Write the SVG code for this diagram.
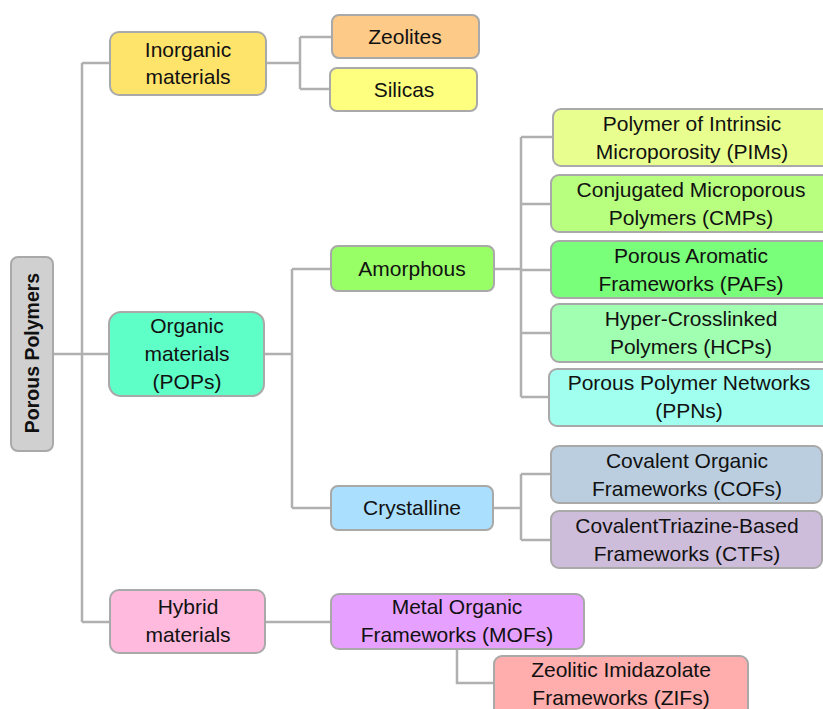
<svg xmlns="http://www.w3.org/2000/svg" width="823" height="709" viewBox="0 0 823 709">
<style>
.box{stroke:#a9a9a9;stroke-width:2}
.t{font-family:"Liberation Sans",Arial,sans-serif;font-size:21px;fill:#111;text-anchor:middle}
.c{fill:none;stroke:#b0b0b0;stroke-width:2.5}
</style>
<rect width="823" height="709" fill="#fff"/>
<g id="connectors">
<path class="c" d="M53,354 H109 M82,63 V622 M82,63 H110 M82,622 H110"/>
<path class="c" d="M266,63 H300 M300,37 V89 M300,37 H332 M300,89 H330"/>
<path class="c" d="M264,354 H292 M292,269 V508 M292,269 H331 M292,508 H331"/>
<path class="c" d="M494,269 H521 M521,137 V397 M521,137 H553 M521,204 H551 M521,270 H551 M521,333 H551 M521,397 H549"/>
<path class="c" d="M493,508 H521 M521,474 V540 M521,474 H551 M521,540 H551"/>
<path class="c" d="M265,622 H331"/>
<path class="c" d="M457,649 V683 H494"/>
</g>
<g id="root">
<rect class="box" x="11" y="257" width="42" height="194" rx="7" fill="#d0d0d0"/>
<text class="t" transform="translate(39,353) rotate(-90)" style="font-weight:bold;font-size:19.5px">Porous Polymers</text>
</g>
<g id="inorganic">
<rect class="box" x="110" y="32" width="156" height="63" rx="9" fill="#ffe46c"/>
<text class="t" x="188" y="57">Inorganic</text>
<text class="t" x="188" y="84">materials</text>
</g>
<g id="zeolites">
<rect class="box" x="332" y="15" width="147" height="43" rx="7" fill="#fdca87"/>
<text class="t" x="405" y="44">Zeolites</text>
</g>
<g id="silicas">
<rect class="box" x="330" y="68" width="147" height="43" rx="7" fill="#ffff7f"/>
<text class="t" x="404" y="97">Silicas</text>
</g>
<g id="organic">
<rect class="box" x="109" y="312" width="155" height="84" rx="12" fill="#5fffc8"/>
<text class="t" x="187" y="333">Organic</text>
<text class="t" x="187" y="361">materials</text>
<text class="t" x="187" y="389">(POPs)</text>
</g>
<g id="amorphous">
<rect class="box" x="331" y="246" width="163" height="45" rx="7" fill="#99ff66"/>
<text class="t" x="412" y="276">Amorphous</text>
</g>
<g id="crystalline">
<rect class="box" x="331" y="486" width="162" height="44" rx="7" fill="#aadffd"/>
<text class="t" x="412" y="515">Crystalline</text>
</g>
<g id="pims">
<rect class="box" x="553" y="109" width="285" height="57" rx="8" fill="#e8ff90"/>
<text class="t" x="692" y="131">Polymer of Intrinsic</text>
<text class="t" x="692" y="159">Microporosity (PIMs)</text>
</g>
<g id="cmps">
<rect class="box" x="551" y="175" width="285" height="57" rx="8" fill="#b8ff80"/>
<text class="t" x="691" y="197">Conjugated Microporous</text>
<text class="t" x="691" y="225">Polymers (CMPs)</text>
</g>
<g id="pafs">
<rect class="box" x="551" y="241" width="285" height="57" rx="8" fill="#7aff7a"/>
<text class="t" x="691" y="263">Porous Aromatic</text>
<text class="t" x="691" y="291">Frameworks (PAFs)</text>
</g>
<g id="hcps">
<rect class="box" x="551" y="304" width="285" height="58" rx="8" fill="#a0ffb0"/>
<text class="t" x="691" y="326">Hyper-Crosslinked</text>
<text class="t" x="691" y="354">Polymers (HCPs)</text>
</g>
<g id="ppns">
<rect class="box" x="549" y="369" width="285" height="57" rx="8" fill="#a0ffee"/>
<text class="t" x="689" y="390">Porous Polymer Networks</text>
<text class="t" x="689" y="418">(PPNs)</text>
</g>
<g id="cofs">
<rect class="box" x="551" y="446" width="271" height="57" rx="8" fill="#bacee0"/>
<text class="t" x="687" y="468">Covalent Organic</text>
<text class="t" x="687" y="496">Frameworks (COFs)</text>
</g>
<g id="ctfs">
<rect class="box" x="551" y="511" width="271" height="57" rx="8" fill="#cdbcda"/>
<text class="t" x="687" y="533">CovalentTriazine-Based</text>
<text class="t" x="687" y="561">Frameworks (CTFs)</text>
</g>
<g id="hybrid">
<rect class="box" x="110" y="590" width="155" height="63" rx="9" fill="#ffbadd"/>
<text class="t" x="188" y="614">Hybrid</text>
<text class="t" x="188" y="642">materials</text>
</g>
<g id="mofs">
<rect class="box" x="331" y="594" width="253" height="55" rx="8" fill="#e6a0ff"/>
<text class="t" x="457" y="614">Metal Organic</text>
<text class="t" x="457" y="642">Frameworks (MOFs)</text>
</g>
<g id="zifs">
<rect class="box" x="494" y="656" width="254" height="65" rx="8" fill="#ffadad"/>
<text class="t" x="621" y="677">Zeolitic Imidazolate</text>
<text class="t" x="621" y="705">Frameworks (ZIFs)</text>
</g>
</svg>
